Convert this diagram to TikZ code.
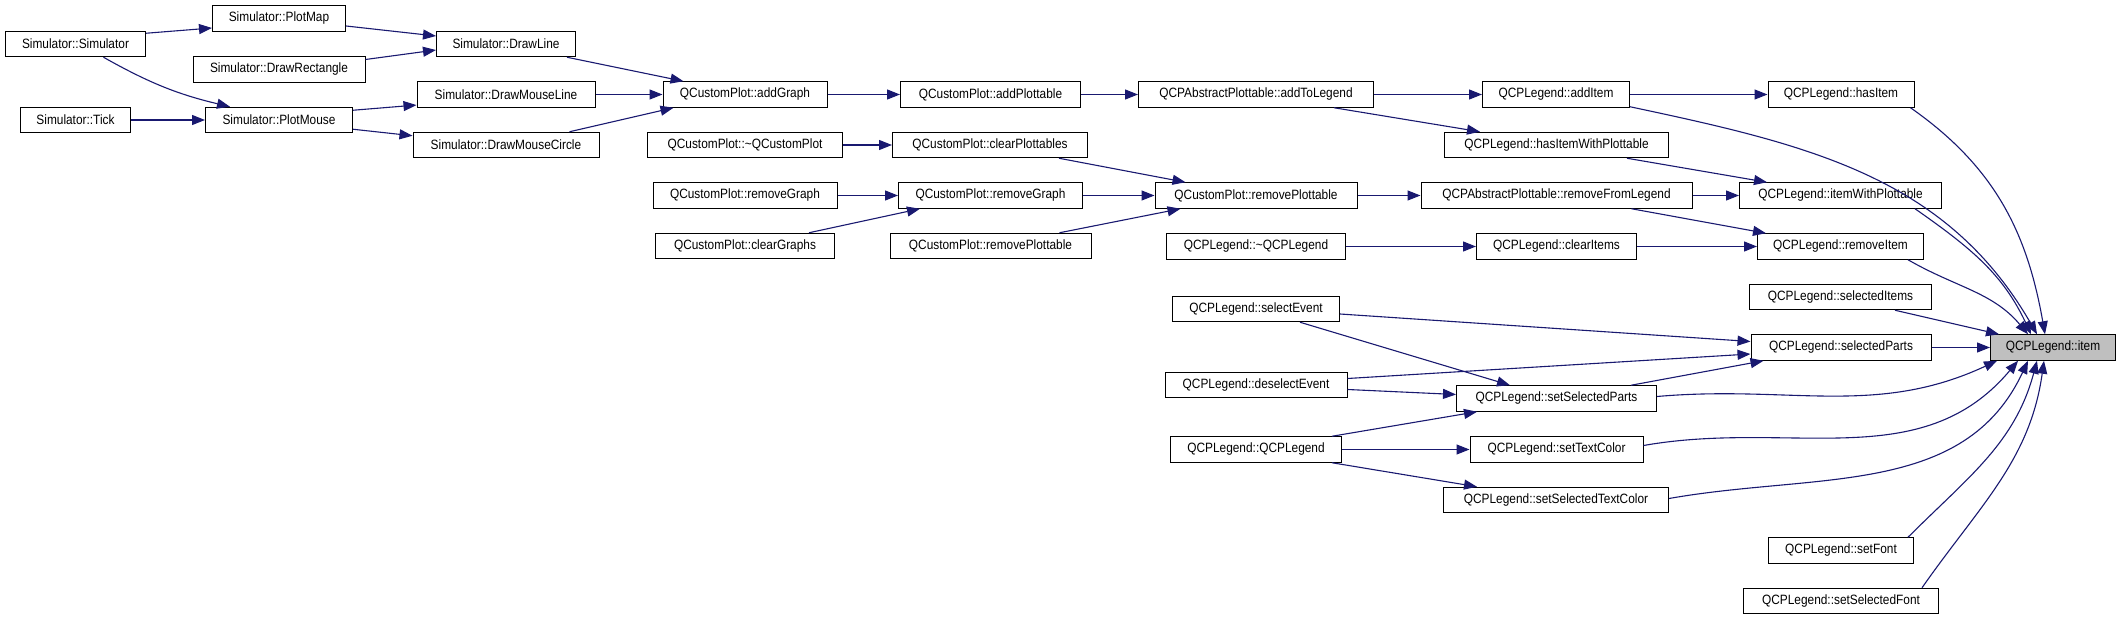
\documentclass[tikz,border=0pt]{standalone}
\usepackage{fontspec}
\setmainfont{Liberation Sans}[FakeStretch=0.88]
\usepackage{tikz}
\usetikzlibrary{arrows.meta}
\definecolor{edgeblue}{HTML}{191970}
\definecolor{rootgray}{HTML}{BFBFBF}

\begin{document}
\begin{tikzpicture}[x=1pt,y=-1pt,
	func/.style={draw=black,line width=1pt,fill=white,minimum width=#1,minimum height=25.5pt,inner xsep=3pt,inner ysep=0pt,font=\fontsize{13.5}{15}\selectfont},
	call/.style={draw=edgeblue,line width=1.1pt,-{Triangle[length=13pt,width=10pt]}}]
	\useasboundingbox (0,0) rectangle (2121,620);
	\node[func=140pt] (sim) at (75.5,44) {Simulator::Simulator};
	\node[func=133pt] (plotmap) at (279,18.5) {Simulator::PlotMap};
	\node[func=139pt] (drawline) at (506,44) {Simulator::DrawLine};
	\node[func=172pt] (drawrect) at (279,69.5) {Simulator::DrawRectangle};
	\node[func=178pt] (dmline) at (506,94.5) {Simulator::DrawMouseLine};
	\node[func=147pt] (plotmouse) at (279,120) {Simulator::PlotMouse};
	\node[func=110pt] (tick) at (75.5,120) {Simulator::Tick};
	\node[func=186pt] (dmcircle) at (506,145) {Simulator::DrawMouseCircle};
	\node[func=164pt] (addgraph) at (745,94.5) {QCustomPlot::addGraph};
	\node[func=180pt] (addplot) at (990.5,94.5) {QCustomPlot::addPlottable};
	\node[func=235pt] (addlegend) at (1256,94.5) {QCPAbstractPlottable::addToLegend};
	\node[func=147pt] (additem) at (1556,94.5) {QCPLegend::addItem};
	\node[func=146pt] (hasitem) at (1841,94.5) {QCPLegend::hasItem};
	\node[func=195pt] (cpdtor) at (745,145) {QCustomPlot::\textasciitilde QCustomPlot};
	\node[func=195pt] (clearplot) at (990,145) {QCustomPlot::clearPlottables};
	\node[func=224pt] (hasitemwp) at (1556.5,145) {QCPLegend::hasItemWithPlottable};
	\node[func=184pt] (rmgrapha) at (745,195.5) {QCustomPlot::removeGraph};
	\node[func=184pt] (rmgraphb) at (990.5,195.5) {QCustomPlot::removeGraph};
	\node[func=202pt] (rmplot) at (1256,195.5) {QCustomPlot::removePlottable};
	\node[func=271pt] (rmfromleg) at (1556.5,195.5) {QCPAbstractPlottable::removeFromLegend};
	\node[func=202pt] (itemwp) at (1840.5,195.5) {QCPLegend::itemWithPlottable};
	\node[func=179pt] (cleargraphs) at (745,246) {QCustomPlot::clearGraphs};
	\node[func=201pt] (rmplotb) at (990.5,246) {QCustomPlot::removePlottable};
	\node[func=179pt] (legdtor) at (1256,246.5) {QCPLegend::\textasciitilde QCPLegend};
	\node[func=160pt] (clearitems) at (1556.5,246.5) {QCPLegend::clearItems};
	\node[func=166pt] (rmitem) at (1840.5,246.5) {QCPLegend::removeItem};
	\node[func=182pt] (selitems) at (1840.5,297) {QCPLegend::selectedItems};
	\node[func=167pt] (selevent) at (1256,309) {QCPLegend::selectEvent};
	\node[func=180pt] (selparts) at (1841,347.5) {QCPLegend::selectedParts};
	\node[func=125pt,fill=rootgray] (item) at (2053,347.5) {QCPLegend::item};
	\node[func=182pt] (deselevent) at (1256,385) {QCPLegend::deselectEvent};
	\node[func=200pt] (setselparts) at (1556.5,398.5) {QCPLegend::setSelectedParts};
	\node[func=171pt] (legctor) at (1256,449.5) {QCPLegend::QCPLegend};
	\node[func=173pt] (settextcolor) at (1556.5,449.5) {QCPLegend::setTextColor};
	\node[func=225pt] (setseltextcolor) at (1556,500) {QCPLegend::setSelectedTextColor};
	\node[func=145pt] (setfont) at (1841,550.5) {QCPLegend::setFont};
	\node[func=195pt] (setselfont) at (1841,601) {QCPLegend::setSelectedFont};
	% straight calls along a row
	\foreach \a/\b in {tick/plotmouse,dmline/addgraph,addgraph/addplot,addplot/addlegend,addlegend/additem,additem/hasitem,cpdtor/clearplot,rmgrapha/rmgraphb,rmgraphb/rmplot,rmplot/rmfromleg,rmfromleg/itemwp,legdtor/clearitems,clearitems/rmitem,selparts/item,legctor/settextcolor}
	{
		\draw[call] (\a.east) -- (\b.west);
	}
	\draw[call] ([yshift=-2.5pt]sim.north east) -- ([yshift=-9.5pt]plotmap.west);
	\draw[call] ([xshift=28pt]sim.south) to[bend right=8] ([xshift=-49pt]plotmouse.north);
	\draw[call] ([yshift=-7.5pt]plotmap.east) -- ([yshift=8pt]drawline.west);
	\draw[call] ([yshift=10pt]drawrect.east) -- ([yshift=-6pt]drawline.west);
	\draw[call] ([xshift=-9pt]drawline.south east) -- ([xshift=21pt]addgraph.north west);
	\draw[call] ([xshift=-30pt]dmcircle.north east) -- ([xshift=11pt]addgraph.south west);
	\draw[call] ([yshift=-3.5pt]plotmouse.north east) -- ([yshift=2.7pt]dmline.south west);
	\draw[call] ([yshift=4pt]plotmouse.south east) -- ([yshift=-4pt]dmcircle.north west);
	\draw[call] ([xshift=-40pt]addlegend.south east) -- ([xshift=36pt]hasitemwp.north west);
	\draw[call] ([xshift=-29pt]clearplot.south east) -- ([xshift=31pt]rmplot.north west);
	\draw[call] ([xshift=-26pt]cleargraphs.north east) -- ([xshift=22pt]rmgraphb.south west);
	\draw[call] ([xshift=-32pt]rmplotb.north east) -- ([xshift=26pt]rmplot.south west);
	\draw[call] ([xshift=-61pt]rmfromleg.south east) -- ([xshift=9pt]rmitem.north west);
	\draw[call] ([xshift=-42pt]hasitemwp.south east) -- ([xshift=28pt]itemwp.north west);
	\draw[call] ([yshift=-5pt]selevent.east) -- ([yshift=6pt]selparts.west);
	\draw[call] ([xshift=-40pt]selevent.south east) -- ([xshift=54pt]setselparts.north west);
	\draw[call] ([yshift=6.5pt]deselevent.east) -- ([yshift=-6.5pt]selparts.west);
	\draw[call] ([yshift=-4.5pt]deselevent.east) -- ([yshift=4pt]setselparts.west);
	\draw[call] ([xshift=-26pt]setselparts.north east) -- ([xshift=13pt]selparts.south west);
	\draw[call] ([xshift=-10pt]legctor.north east) -- ([xshift=21pt]setselparts.south west);
	\draw[call] ([xshift=-10pt]legctor.south east) -- ([xshift=34pt]setseltextcolor.north west);
	% everything that ends in QCPLegend::item
	\draw[call] ([yshift=1pt]additem.south east) to[out=-12,in=120] ([xshift=-16pt]item.north);
	\draw[call] ([xshift=-4pt]hasitem.south east) to[out=-35,in=100] ([xshift=-8pt]item.north);
	\draw[call] ([xshift=-27pt]itemwp.south east) to[out=-35,in=115] ([xshift=-22pt]item.north);
	\draw[call] ([xshift=-16pt]rmitem.south east) to[out=-30,in=130] ([xshift=-25pt]item.north);
	\draw[call] ([xshift=-37pt]selitems.south east) -- ([xshift=9pt]item.north west);
	\draw[call] ([yshift=2pt]setselparts.east) to[out=5,in=-155] ([xshift=7pt]item.south west);
	\draw[call] ([yshift=4pt]settextcolor.east) to[out=10,in=-130] ([xshift=-35pt]item.south);
	\draw[call] ([yshift=1.5pt]setseltextcolor.east) to[out=10,in=-115] ([xshift=-25pt]item.south);
	\draw[call] ([xshift=-6pt]setfont.north east) to[out=45,in=-105] ([xshift=-16pt]item.south);
	\draw[call] ([xshift=-17pt]setselfont.north east) to[out=55,in=-98] ([xshift=-9pt]item.south);
\end{tikzpicture}
\end{document}
